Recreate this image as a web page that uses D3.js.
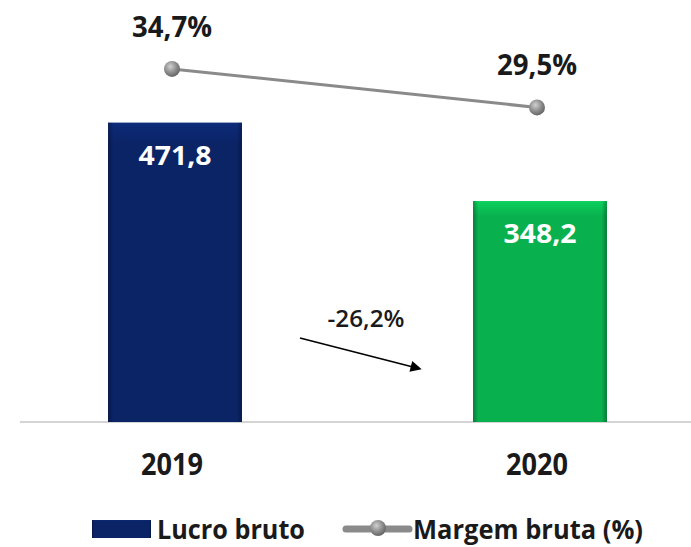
<!DOCTYPE html>
<html>
<head>
<meta charset="utf-8">
<script src="https://cdn.jsdelivr.net/npm/d3@7"></script>
<style>
  body { margin: 0; background: #fff; }
  text { font-family: "Open Sans", sans-serif; font-weight: bold; }
</style>
</head>
<body>
<div id="chart"></div>
<script>
// values
var years = ["2019", "2020"];
var lucroBruto = [471.8, 348.2];
var margemBruta = [34.7, 29.5];
var variacao = "-26,2%";
var barColors = ["#0b2466", "#09b04e"];
var legendNames = ["Lucro bruto", "Margem bruta (%)"];

var width = 691, height = 547;

var svg = d3.select("#chart").append("svg")
    .attr("width", width)
    .attr("height", height);

var defs = svg.append("defs");

// bevel look for bars
barColors.forEach(function (c, i) {
    var g = defs.append("linearGradient")
        .attr("id", "bevel" + i)
        .attr("x1", 0).attr("y1", 0).attr("x2", 0).attr("y2", 1);
    var base = d3.color(c);
    g.append("stop").attr("offset", "0%").attr("stop-color", base.brighter(0.5));
    g.append("stop").attr("offset", "3.5%").attr("stop-color", base.brighter(0.25));
    g.append("stop").attr("offset", "7%").attr("stop-color", base);
    g.append("stop").attr("offset", "100%").attr("stop-color", base);

    var s = defs.append("linearGradient")
        .attr("id", "side" + i)
        .attr("x1", 0).attr("y1", 0).attr("x2", 1).attr("y2", 0);
    s.append("stop").attr("offset", "0%").attr("stop-color", "#000").attr("stop-opacity", 0.3);
    s.append("stop").attr("offset", "4%").attr("stop-color", "#000").attr("stop-opacity", 0);
    s.append("stop").attr("offset", "96%").attr("stop-color", "#000").attr("stop-opacity", 0);
    s.append("stop").attr("offset", "100%").attr("stop-color", "#000").attr("stop-opacity", 0.3);
});

var rg = defs.append("radialGradient")
    .attr("id", "ball")
    .attr("cx", "40%").attr("cy", "35%").attr("r", "65%");
rg.append("stop").attr("offset", "0%").attr("stop-color", "#d0d0d0");
rg.append("stop").attr("offset", "60%").attr("stop-color", "#8c8c8c");
rg.append("stop").attr("offset", "100%").attr("stop-color", "#666");

defs.append("marker")
    .attr("id", "arrow")
    .attr("viewBox", "0 0 10 10")
    .attr("refX", 2).attr("refY", 5)
    .attr("markerWidth", 8).attr("markerHeight", 7)
    .attr("markerUnits", "strokeWidth")
    .attr("orient", "auto")
    .append("path")
    .attr("d", "M0,0 L10,5 L0,10 z")
    .attr("fill", "#000");

var x = d3.scaleBand()
    .domain(years)
    .range([-7.5, 722.5])
    .paddingInner(0.633)
    .paddingOuter(0.3165);

var y = d3.scaleLinear()
    .domain([0, 665])
    .range([422, 0]);

var y2 = d3.scaleLinear()
    .domain([0, 44])
    .range([326, 0]);

function cx(i) { return x(years[i]) + x.bandwidth() / 2; }
function fmt(d) { return d3.format(".1f")(d).replace(".", ","); }

// baseline
svg.append("line")
    .attr("x1", 20).attr("x2", width)
    .attr("y1", y(0)).attr("y2", y(0))
    .attr("stroke", "#d4d4d4")
    .attr("stroke-width", 2);

// bars
var bars = svg.selectAll(".bar")
    .data(lucroBruto)
    .enter().append("g")
    .attr("class", "bar");

bars.append("rect")
    .attr("x", function (d, i) { return x(years[i]); })
    .attr("y", function (d) { return y(d); })
    .attr("width", x.bandwidth())
    .attr("height", function (d) { return y(0) - y(d); })
    .attr("fill", function (d, i) { return "url(#bevel" + i + ")"; });

bars.append("rect")
    .attr("x", function (d, i) { return x(years[i]); })
    .attr("y", function (d) { return y(d); })
    .attr("width", x.bandwidth())
    .attr("height", function (d) { return y(0) - y(d); })
    .attr("fill", function (d, i) { return "url(#side" + i + ")"; });

bars.append("text")
    .attr("x", function (d, i) { return cx(i); })
    .attr("y", function (d) { return y(d) + 42; })
    .attr("text-anchor", "middle")
    .attr("fill", "#fff")
    .attr("textLength", 73)
    .attr("lengthAdjust", "spacingAndGlyphs")
    .style("font-size", "26px")
    .text(fmt);

// year labels
svg.selectAll(".year")
    .data(years)
    .enter().append("text")
    .attr("class", "year")
    .attr("x", function (d, i) { return cx(i) - 3; })
    .attr("y", 475)
    .attr("text-anchor", "middle")
    .attr("fill", "#1a1a1a")
    .attr("textLength", 62)
    .attr("lengthAdjust", "spacingAndGlyphs")
    .style("font-size", "30px")
    .text(function (d) { return d; });

// margin line
var line = d3.line()
    .x(function (d, i) { return cx(i) - 3; })
    .y(function (d) { return y2(d); });

svg.append("path")
    .datum(margemBruta)
    .attr("d", line)
    .attr("fill", "none")
    .attr("stroke", "#8a8a8a")
    .attr("stroke-width", 3);

svg.selectAll(".dot")
    .data(margemBruta)
    .enter().append("circle")
    .attr("cx", function (d, i) { return cx(i) - 3; })
    .attr("cy", function (d) { return y2(d); })
    .attr("r", 8)
    .attr("fill", "url(#ball)");

svg.selectAll(".pct")
    .data(margemBruta)
    .enter().append("text")
    .attr("x", function (d, i) { return cx(i) - 3; })
    .attr("y", function (d) { return y2(d) - 32; })
    .attr("text-anchor", "middle")
    .attr("fill", "#1a1a1a")
    .attr("textLength", 80)
    .attr("lengthAdjust", "spacingAndGlyphs")
    .style("font-size", "28px")
    .text(function (d) { return fmt(d) + "%"; });

// variation arrow
var ax0 = x(years[0]) + x.bandwidth() + 58;
var ax1 = x(years[1]) - 48;
svg.append("line")
    .attr("x1", ax0).attr("y1", 338)
    .attr("x2", ax1 - 12).attr("y2", 367)
    .attr("stroke", "#000")
    .attr("stroke-width", 1.6)
    .attr("marker-end", "url(#arrow)");

svg.append("text")
    .attr("x", 366)
    .attr("y", 327)
    .attr("text-anchor", "middle")
    .attr("fill", "#1a1a1a")
    .attr("textLength", 77)
    .attr("lengthAdjust", "spacingAndGlyphs")
    .style("font-size", "24px")
    .style("font-weight", "600")
    .text(variacao);

// legend
var lg = svg.append("g");
lg.append("rect")
    .attr("x", 92).attr("y", 520)
    .attr("width", 59).attr("height", 18)
    .attr("fill", "url(#bevel0)");
lg.append("rect")
    .attr("x", 92).attr("y", 520)
    .attr("width", 59).attr("height", 18)
    .attr("fill", "url(#side0)");
lg.append("text")
    .attr("x", 157).attr("y", 539)
    .attr("fill", "#1a1a1a")
    .attr("textLength", 148)
    .attr("lengthAdjust", "spacingAndGlyphs")
    .style("font-size", "26px")
    .text(legendNames[0]);
lg.append("line")
    .attr("x1", 346).attr("x2", 409)
    .attr("y1", 529).attr("y2", 529)
    .attr("stroke", "#8a8a8a")
    .attr("stroke-width", 7)
    .attr("stroke-linecap", "round");
lg.append("circle")
    .attr("cx", 378).attr("cy", 528)
    .attr("r", 8)
    .attr("fill", "url(#ball)");
lg.append("text")
    .attr("x", 413).attr("y", 539)
    .attr("fill", "#1a1a1a")
    .attr("textLength", 230)
    .attr("lengthAdjust", "spacingAndGlyphs")
    .style("font-size", "26px")
    .text(legendNames[1]);
</script>
</body>
</html>
